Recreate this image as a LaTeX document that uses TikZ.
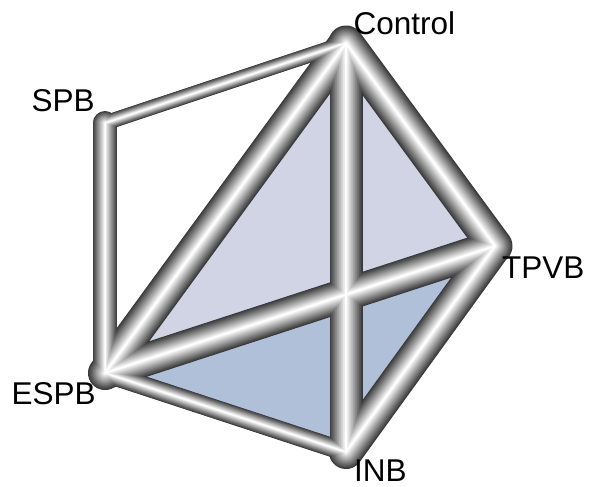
\documentclass[tikz,border=0pt]{standalone}
\usepackage{fontspec}
\setmainfont{Liberation Sans}
\definecolor{upfill}{RGB}{208,212,228}
\definecolor{lowfill}{RGB}{176,192,216}
\begin{document}
\begin{tikzpicture}[x=1pt,y=-1pt,
  lab/.style={inner sep=0pt,anchor=base west,font=\fontsize{31.5}{31.5}\selectfont}]
\useasboundingbox (0,0) rectangle (590,487);
\coordinate (C) at (346,43);
\coordinate (S) at (105,123);
\coordinate (T) at (495,246);
\coordinate (E) at (105,373);
\coordinate (I) at (346,452);
\fill[upfill] (C) -- (E) -- (T) -- cycle;
\fill[lowfill] (E) -- (I) -- (T) -- cycle;
\foreach \k in {0,...,24} {
  \pgfmathsetmacro{\f}{1-\k/25}
  \pgfmathsetmacro{\g}{78*(1-\k/24)}
  \foreach \a/\b/\w in {C/S/15, S/E/24, E/I/19, C/E/34, C/I/33, C/T/35, E/T/33, I/T/34} {
    \pgfmathsetmacro{\lw}{\w*\f}
    \draw[line width=\lw pt, black!\g, line cap=round, line join=round] (\a) -- (\b);
  }
}
\node[lab] (lC) at (353.5,35) {Control};
\node[lab] (lS) at (31.5,112) {SPB};
\node[lab] (lE) at (11.5,404) {ESPB};
\node[lab] (lI) at (354,481) {INB};
\node[lab] (lT) at (502,278) {TPVB};
\end{tikzpicture}
\end{document}
